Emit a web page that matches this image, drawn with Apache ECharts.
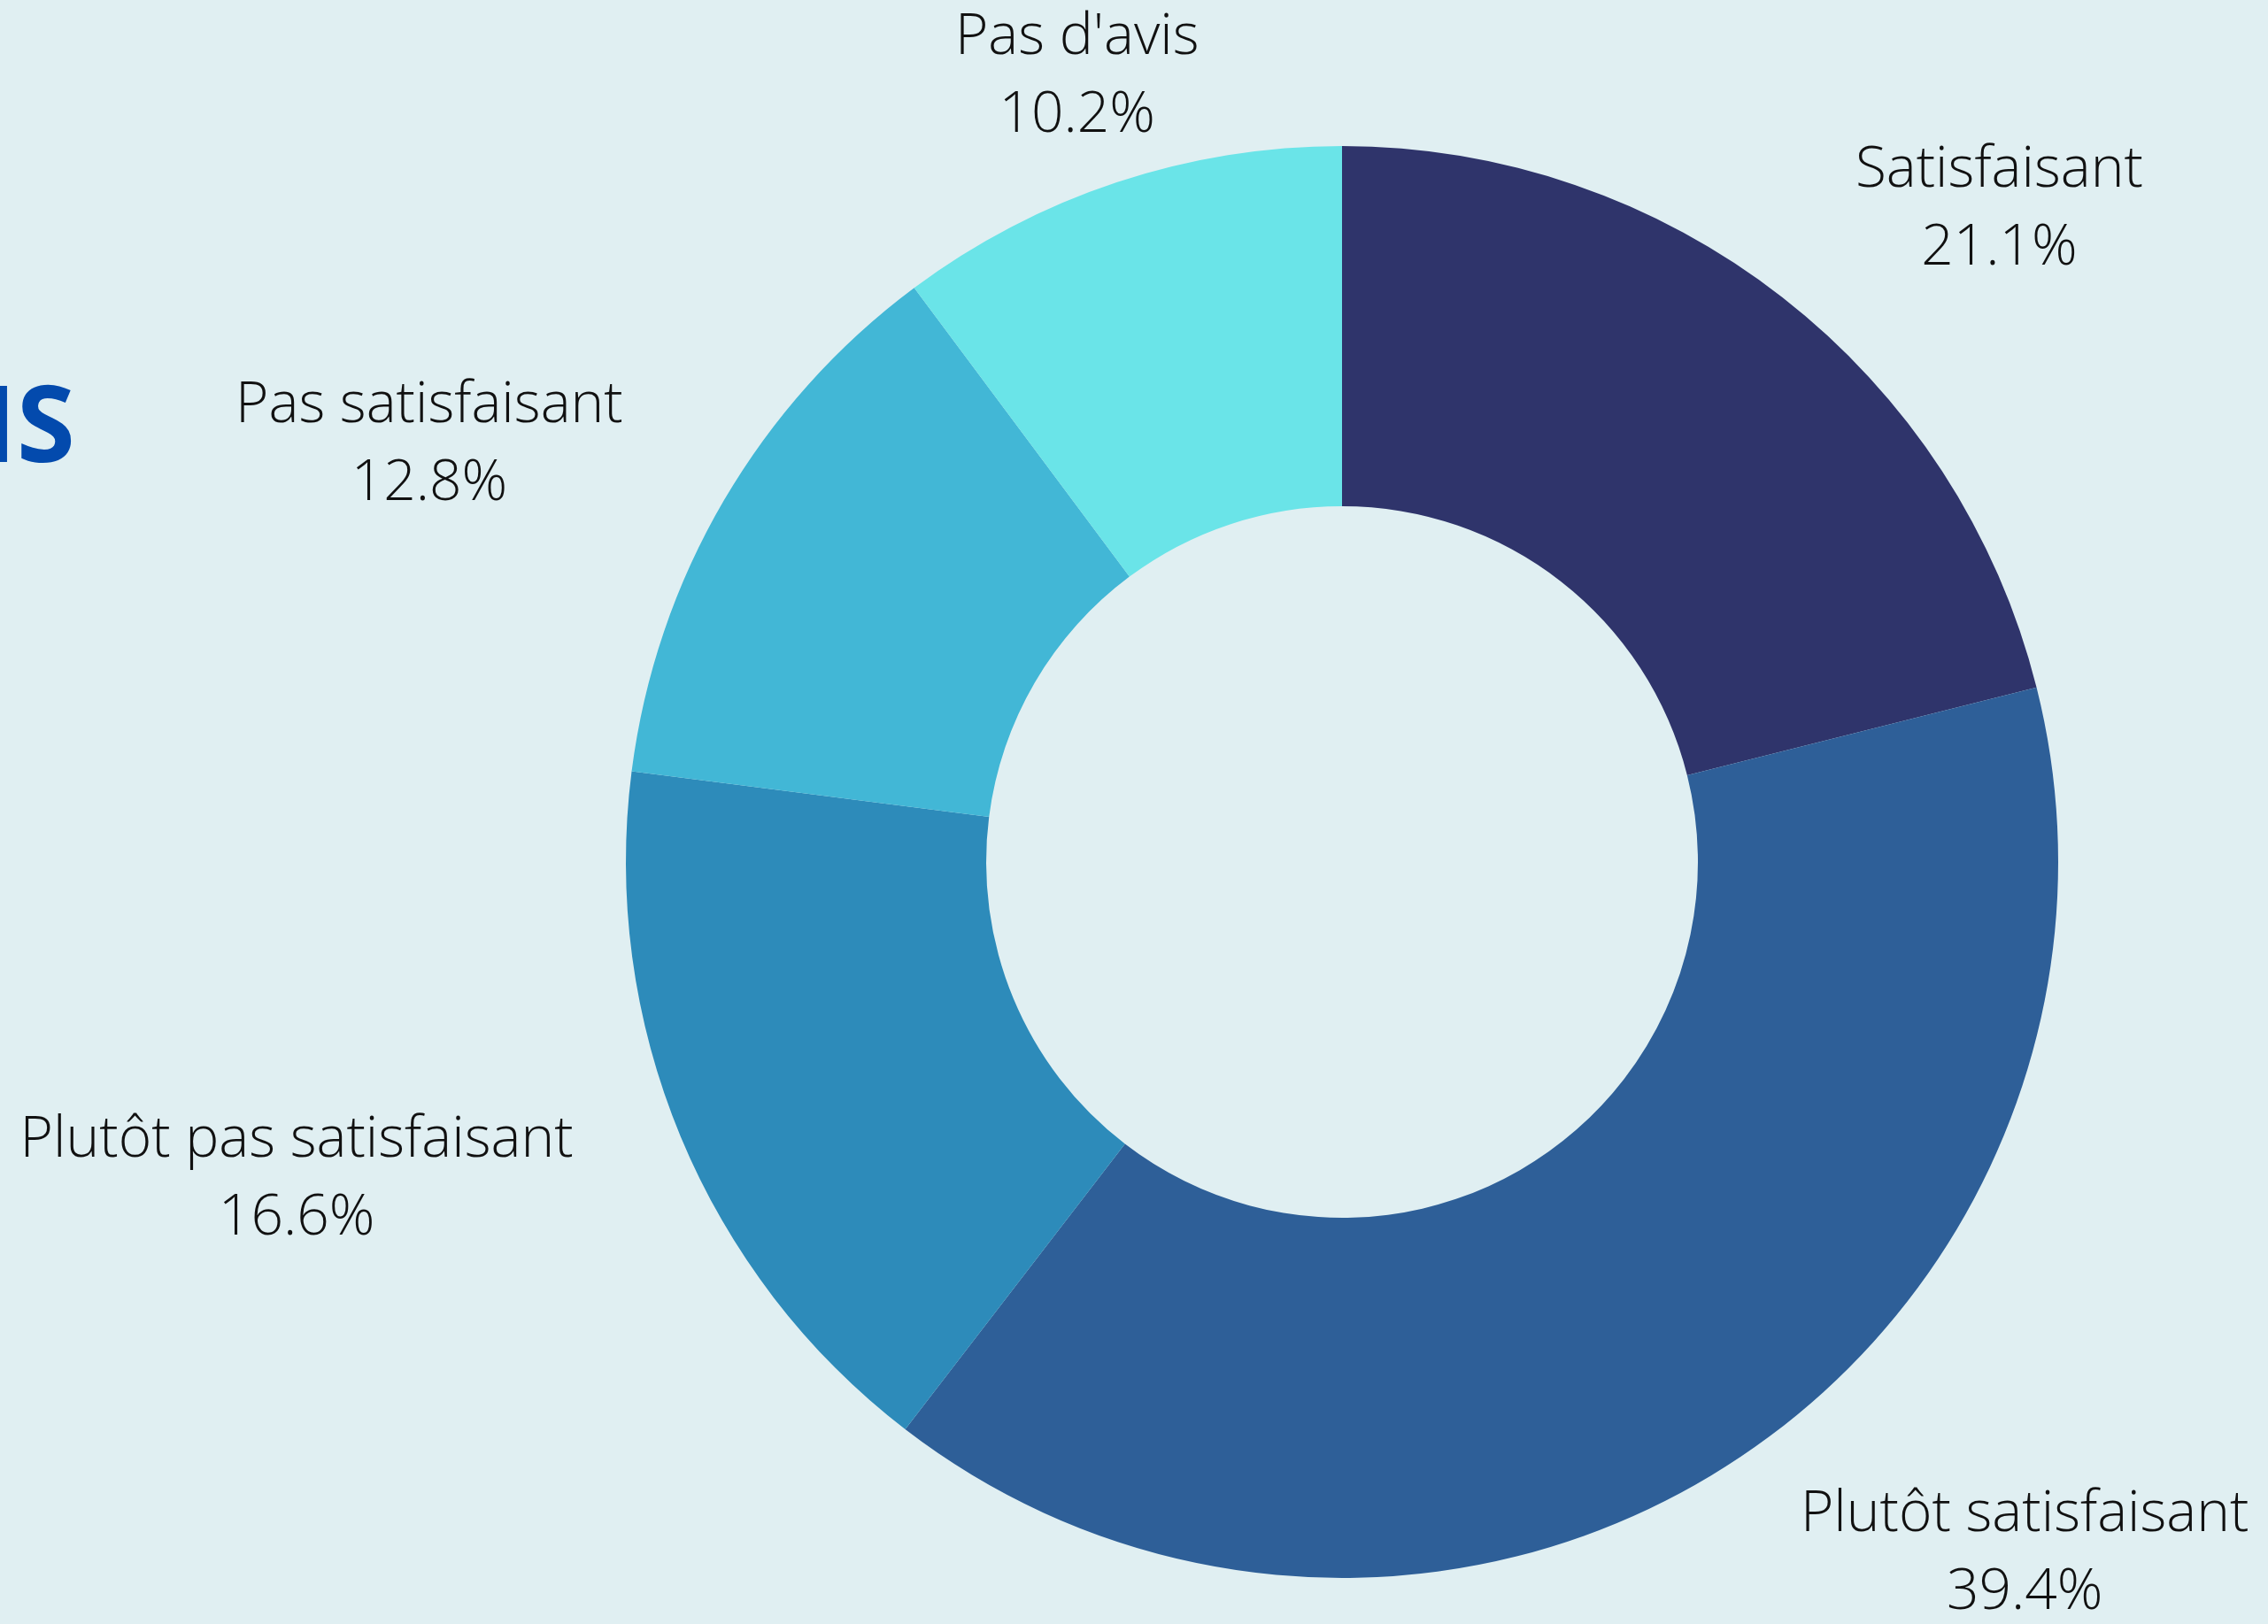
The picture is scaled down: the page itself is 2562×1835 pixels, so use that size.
<!DOCTYPE html>
<html>
<head>
<meta charset="utf-8">
<script src="https://cdn.jsdelivr.net/npm/echarts@6/dist/echarts.min.js"></script>
<style>
  html, body { margin: 0; padding: 0; background: #e0eff2; }
  #chart { width: 2562px; height: 1835px; }
</style>
</head>
<body>
<div id="chart"></div>
<script>
// categories, clockwise from the top
var categories = ["Satisfaisant", "Plutôt satisfaisant", "Plutôt pas satisfaisant", "Pas satisfaisant", "Pas d'avis"];
var values = [21.1, 39.4, 16.6, 12.8, 10.2];
var colors = ["#2f346b", "#2e5f98", "#2d8bba", "#42b7d6", "#6ae4e8"];

var chart = echarts.init(document.getElementById("chart"));

var seriesData = categories.map(function (name, i) {
  return { name: name, value: values[i], itemStyle: { color: colors[i] } };
});

// angle du milieu de chaque part (depuis le haut, sens horaire)
var total = values.reduce(function (a, b) { return a + b; }, 0);
var acc = 0;
var midAngles = values.map(function (v) {
  var mid = 90 - (acc + v / 2) / total * 360;
  acc += v;
  return mid;
});

var option = {
  backgroundColor: "#e0eff2",
  animation: false,
  graphic: [
    {
      // titre coupé à gauche
      type: "text",
      left: -21,
      top: 428,
      style: {
        text: "IS",
        fill: "#034aad",
        font: "bold 120px 'Open Sans'",
      },
    },
  ],
  series: [
    {
      type: "pie",
      center: [1516, 974],
      radius: [402, 809],
      startAngle: 90,
      clockwise: true,
      avoidLabelOverlap: false,
      label: {
        show: true,
        position: "outside",
        formatter: "{n|{b}}\n{p|{c}%}",
        color: "#111",
        rich: {
          n: { fontFamily: "Open Sans", fontWeight: 300, fontSize: 64, lineHeight: 88, align: "center", color: "#111" },
          p: { fontFamily: "Open Sans", fontWeight: 300, fontSize: 64, lineHeight: 88, align: "center", color: "#111" },
        },
      },
      labelLine: { show: false, length: 126, length2: 0 },
      // les étiquettes proches de la verticale sont centrées
      labelLayout: function (params) {
        var a = midAngles[params.dataIndex] * Math.PI / 180;
        if (Math.abs(Math.cos(a)) < 0.4) {
          return { align: "center" };
        }
        return {};
      },
      data: seriesData,
    },
  ],
};

chart.setOption(option);
</script>
</body>
</html>
